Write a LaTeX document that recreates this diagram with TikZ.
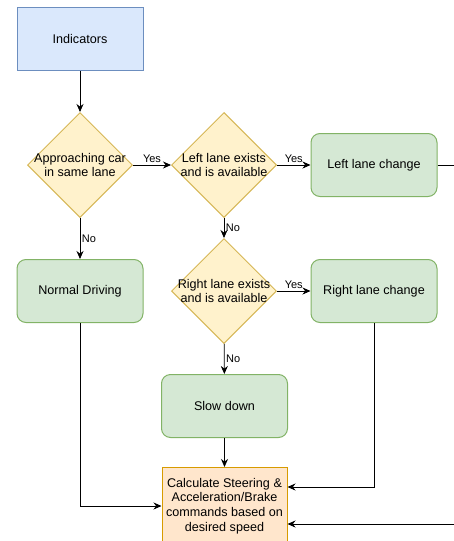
\documentclass[tikz,border=0pt]{standalone}
\usepackage{fontspec}
\setmainfont{Liberation Sans}
\usetikzlibrary{shapes.geometric, arrows.meta}

\definecolor{blueFill}{HTML}{DAE8FC}
\definecolor{blueLine}{HTML}{6C8EBF}
\definecolor{yellowFill}{HTML}{FFF2CC}
\definecolor{yellowLine}{HTML}{D6B656}
\definecolor{greenFill}{HTML}{D5E8D4}
\definecolor{greenLine}{HTML}{82B366}
\definecolor{orangeFill}{HTML}{FFE6CC}
\definecolor{orangeLine}{HTML}{D79B00}

\begin{document}
\begin{tikzpicture}[x=1pt, y=-1pt,
    font=\fontsize{12.6}{14.6}\selectfont,
    start/.style={rectangle, draw=blueLine, fill=blueFill, line width=1pt, minimum width=126pt, minimum height=63pt},
    decision/.style={diamond, draw=yellowLine, fill=yellowFill, line width=1pt, minimum size=105pt, inner sep=-7pt, align=center},
    action/.style={rectangle, rounded corners=9pt, draw=greenLine, fill=greenFill, line width=1pt, minimum width=126pt, minimum height=63pt},
    result/.style={rectangle, draw=orangeLine, fill=orangeFill, line width=1pt, minimum width=125pt, minimum height=77pt, align=center},
    flow/.style={-{Stealth[length=8pt, width=7pt]}, line width=0.8pt},
    tag/.style={font=\fontsize{11}{12}\selectfont, inner sep=1.5pt}]
            \useasboundingbox (0,0) rectangle (453,541);
            \node[start] (ind) at (80, 39) {Indicators};
            \node[decision] (appr) at (80, 165) {Approaching car\\in same lane};
            \node[decision] (left) at (224, 165) {Left lane exists\\and is available};
            \node[decision] (right) at (224, 291) {Right lane exists\\and is available};
            \node[action] (llc) at (374, 165) {Left lane change};
            \node[action] (rlc) at (374, 291) {Right lane change};
            \node[action] (normal) at (80, 291) {Normal Driving};
            \node[action] (slow) at (224.5, 406) {Slow down};
            \node[result] (calc) at (224.5, 506) {Calculate Steering \&\\Acceleration/Brake\\commands based on\\desired speed};
            \coordinate (outR) at (455, 165);
            \coordinate (inR) at (455, 524);
            \draw[flow] (ind) -- (appr);
            \draw[flow] (appr) -- node[tag, above] {Yes} (left);
            \draw[flow] (left) -- node[tag, above] {Yes} (llc);
            \draw[flow] (right) -- node[tag, above] {Yes} (rlc);
            \draw[flow] (appr) -- node[tag, right] {No} (normal);
            \draw[flow] (left) -- node[tag, right] {No} (right);
            \draw[flow] (right) -- node[tag, right] {No} (slow);
            \draw[flow] (slow) -- (calc);
            \draw[flow] (normal) |- (calc.west);
            \draw[flow] (rlc) |- ([yshift=19pt]calc.east);
            \draw[line width=0.8pt] (llc) -- (outR);
            \draw[flow] (inR) -- (inR -| calc.east);
        \end{tikzpicture}
\end{document}
